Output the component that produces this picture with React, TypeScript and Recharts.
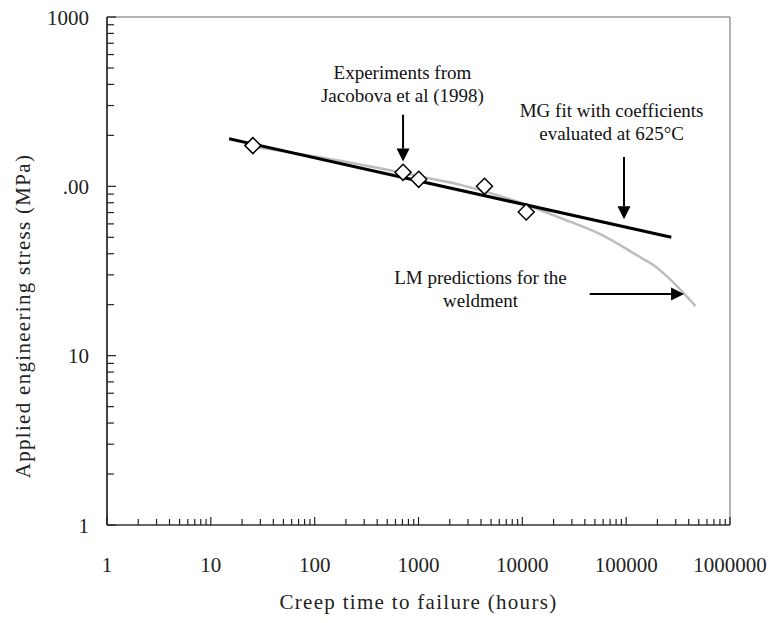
import React from 'react';
import { ComposedChart, Line, Scatter, XAxis, YAxis, ReferenceLine, ReferenceDot, Label } from 'recharts';

// experimental points (Jacobova et al 1998)
const expHours = [25.4, 710, 1004, 4320, 10900];
const expStress = [174, 121, 110, 100, 70.5];

// MG fit, straight line on log-log
const mgHours = [15, 272000];
const mgStress = [191, 50];

// LM predictions for the weldment
const lmHours = [25, 237, 1000, 2540, 9600, 23300, 56800, 138000, 184000, 250000, 336000, 466000];
const lmStress = [172, 137, 115, 102, 80, 65, 52, 38, 34.2, 29.2, 24.4, 19.6];

const xDecades = [1, 10, 100, 1000, 10000, 100000, 1000000];
const yDecades = [1, 10, 100, 1000];
const minorSteps = [2, 3, 4, 5, 6, 7, 8, 9];
const yTickLabels = ['1', '10', '.00', '1000'];

const notes = [
  { x: 700, y: 469, lines: ['Experiments from', 'Jacobova et al (1998)'] },
  { x: 72400, y: 280, lines: ['MG fit with coefficients', 'evaluated at 625°C'] },
  { x: 3955, y: 28.9, lines: ['LM predictions for the', 'weldment'] },
];

const arrows = [
  { x1: 710, y1: 265, x2: 710, y2: 140 },
  { x1: 95300, y1: 149, x2: 95300, y2: 64 },
  { x1: 44500, y1: 23.1, x2: 361000, y2: 23.1 },
];

const withMinors = (decades: number[]) => {
  const out: number[] = [];
  decades.forEach((d, i) => {
    out.push(d);
    if (i < decades.length - 1) minorSteps.forEach((m) => out.push(d * m));
  });
  return out;
};

const xTicks = withMinors(xDecades);
const yTicks = withMinors(yDecades);

const expData = expHours.map((x, i) => ({ x, y: expStress[i] }));
const mgData = mgHours.map((x, i) => ({ x, y: mgStress[i] }));
const lmData = lmHours.map((x, i) => ({ x, y: lmStress[i] }));

const FONT = 'Liberation Serif, DejaVu Serif, serif';

const XTick = (props: any) => {
  const { x, y, payload } = props;
  const major = xDecades.indexOf(payload.value) >= 0;
  return (
    <g>
      <line x1={x} x2={x} y1={y} y2={y - (major ? 8 : 6)} stroke="#222" strokeWidth={1.2} />
      {major && (
        <text x={x} y={y + 47} textAnchor="middle" style={{ fontFamily: FONT, fontSize: 21 }} fill="#222">
          {String(payload.value)}
        </text>
      )}
    </g>
  );
};

const YTick = (props: any) => {
  const { x, y, payload } = props;
  const idx = yDecades.indexOf(payload.value);
  const major = idx >= 0;
  return (
    <g>
      <line x1={x} x2={x + (major ? 9 : 7)} y1={y} y2={y} stroke="#222" strokeWidth={1.2} />
      {major && (
        <text x={x - 18} y={y} dy="0.36em" textAnchor="end" style={{ fontFamily: FONT, fontSize: 21 }} fill="#222">
          {yTickLabels[idx]}
        </text>
      )}
    </g>
  );
};

const Diamond = (props: any) => {
  const { cx, cy } = props;
  const s = 8;
  return (
    <polygon
      points={`${cx},${cy - s} ${cx + s},${cy} ${cx},${cy + s} ${cx - s},${cy}`}
      fill="#fff"
      stroke="#000"
      strokeWidth={1.5}
    />
  );
};

const Arrow = (props: any) => {
  const { x1, y1, x2, y2 } = props;
  const dx = x2 - x1;
  const dy = y2 - y1;
  const len = Math.sqrt(dx * dx + dy * dy) || 1;
  const ux = dx / len;
  const uy = dy / len;
  const head = 13;
  const half = 6.5;
  const bx = x2 - ux * head;
  const by = y2 - uy * head;
  return (
    <g>
      <line x1={x1} y1={y1} x2={bx} y2={by} stroke="#000" strokeWidth={2} />
      <polygon
        points={`${x2},${y2} ${bx - uy * half},${by + ux * half} ${bx + uy * half},${by - ux * half}`}
        fill="#000"
      />
    </g>
  );
};

const noteShape = (lines: string[]) => (props: any) => {
  const { cx, cy } = props;
  return (
    <text x={cx} y={cy} textAnchor="middle" style={{ fontFamily: FONT, fontSize: 19 }} fill="#111">
      {lines.map((l, i) => (
        <tspan key={i} x={cx} y={cy + i * 23} dy="0.35em">
          {l}
        </tspan>
      ))}
    </text>
  );
};

const YTitle = (props: any) => {
  const { viewBox } = props;
  const cx = viewBox.x + 23;
  const cy = viewBox.y + viewBox.height / 2 + 45;
  return (
    <text
      x={cx}
      y={cy}
      transform={`rotate(-90, ${cx}, ${cy})`}
      textAnchor="middle"
      dy="0.35em"
      style={{ fontFamily: FONT, fontSize: 21, letterSpacing: 1.3 }}
      fill="#222"
    >
      Applied engineering stress (MPa)
    </text>
  );
};

const XTitle = (props: any) => {
  const { viewBox } = props;
  const cx = viewBox.x + viewBox.width / 2;
  return (
    <text x={cx} y={609} textAnchor="middle" style={{ fontFamily: FONT, fontSize: 21, letterSpacing: 1.3 }} fill="#222">
      Creep time to failure (hours)
    </text>
  );
};

export default function App() {
  return (
    <div style={{ position: 'absolute', left: 0, top: 0, width: 770, height: 623, background: '#fff' }}>
      <ComposedChart width={770} height={623} margin={{ top: 17, right: 40, bottom: 0, left: 0 }}>
        <XAxis
          type="number"
          dataKey="x"
          scale="log"
          domain={[1, 1000000]}
          ticks={xTicks}
          interval={0}
          height={98}
          tickSize={0}
          tickMargin={0}
          tick={<XTick />}
          axisLine={{ stroke: '#333', strokeWidth: 1.6 }}
          allowDataOverflow
        >
          <Label content={<XTitle />} />
        </XAxis>
        <YAxis
          type="number"
          dataKey="y"
          scale="log"
          domain={[1, 1000]}
          ticks={yTicks}
          interval={0}
          width={107}
          tickSize={0}
          tickMargin={0}
          tick={<YTick />}
          axisLine={{ stroke: '#444', strokeWidth: 2 }}
          allowDataOverflow
        >
          <Label content={<YTitle />} />
        </YAxis>
        <ReferenceLine y={1000} stroke="#999" strokeWidth={1.5} />
        <ReferenceLine x={1000000} stroke="#999" strokeWidth={1.5} />
        <Line
          data={lmData}
          dataKey="y"
          type="monotone"
          stroke="#bdbdbd"
          strokeWidth={2.5}
          dot={false}
          isAnimationActive={false}
        />
        <Line
          data={mgData}
          dataKey="y"
          type="linear"
          stroke="#000"
          strokeWidth={3}
          dot={false}
          isAnimationActive={false}
        />
        <Scatter data={expData} dataKey="y" shape={<Diamond />} isAnimationActive={false} />
        {arrows.map((a, i) => (
          <ReferenceLine
            key={'a' + i}
            segment={[
              { x: a.x1, y: a.y1 },
              { x: a.x2, y: a.y2 },
            ]}
            shape={<Arrow />}
          />
        ))}
        {notes.map((n, i) => (
          <ReferenceDot key={'n' + i} x={n.x} y={n.y} r={0} shape={noteShape(n.lines)} />
        ))}
      </ComposedChart>
    </div>
  );
}
